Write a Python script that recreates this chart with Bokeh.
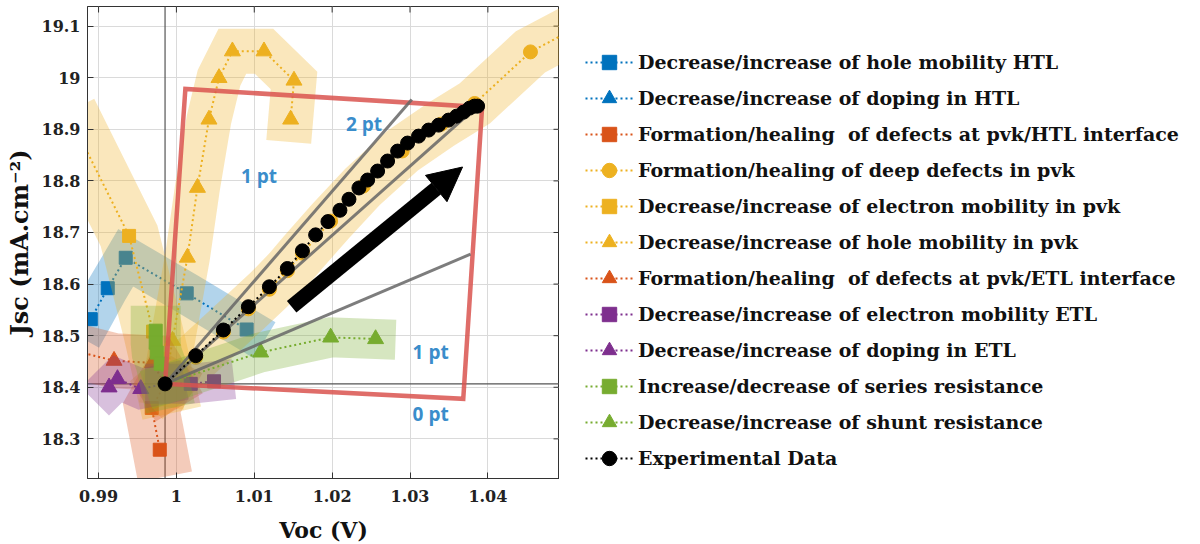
import math
from bokeh.plotting import figure
from bokeh.layouts import row
from bokeh.models import Legend, LegendItem, Span, Arrow, NormalHead, FixedTicker
from bokeh.core.properties import value
from bokeh.embed import file_html
from bokeh.resources import INLINE

BLUE, ORANGE, YELLOW, PURPLE, GREEN = "#0072BD", "#D95319", "#EDB120", "#7E2F8E", "#77AC30"
SERIF = "DejaVu Serif"

# axis limits and ticks
x_lim = (0.98858, 1.0492)
y_lim = (18.2232, 19.138)
x_ticks = [0.99, 1.0, 1.01, 1.02, 1.03, 1.04]
x_tick_labels = ["0.99", "1", "1.01", "1.02", "1.03", "1.04"]
y_ticks = [18.3, 18.4, 18.5, 18.6, 18.7, 18.8, 18.9, 19.0, 19.1]
y_tick_labels = ["18.3", "18.4", "18.5", "18.6", "18.7", "18.8", "18.9", "19", "19.1"]

# measured Voc / Jsc trajectory
exp_voc = [0.99854, 1.00248, 1.00603, 1.00924, 1.01194, 1.01425, 1.01618, 1.01788, 1.01946,
           1.02100, 1.02216, 1.02344, 1.02456, 1.02584, 1.02712, 1.02841, 1.02969, 1.03110,
           1.03239, 1.03367, 1.03495, 1.03598, 1.03688, 1.03765, 1.03829, 1.03868]
exp_jsc = [18.4066, 18.4613, 18.5110, 18.5561, 18.5948, 18.6302, 18.6644, 18.6954, 18.7211,
           18.7431, 18.7644, 18.7863, 18.8017, 18.8191, 18.8385, 18.8578, 18.8733, 18.8868,
           18.8985, 18.9081, 18.9178, 18.9255, 18.9333, 18.9410, 18.9449, 18.9449]

# simulated parameter sweeps (Voc, Jsc)
htl_mob_v = [0.98900, 0.99118, 0.99349, 1.00132, 1.00902]
htl_mob_j = [18.532, 18.592, 18.651, 18.582, 18.512]

htl_dop_v = [0.99854]
htl_dop_j = [18.4066]

htl_int_v = [0.99854, 0.99683, 0.99786]
htl_int_j = [18.4066, 18.360, 18.279]

deep_v = [0.99854, 1.00248, 1.00603, 1.00924, 1.01194, 1.01425, 1.01618, 1.01980, 1.02400,
          1.02900, 1.03400, 1.03830, 1.04547, 1.05350]
deep_j = [18.4066, 18.4580, 18.5070, 18.5520, 18.5900, 18.6260, 18.6600, 18.7220, 18.7900,
          18.8580, 18.9100, 18.9500, 19.0500, 19.1140]

pvk_emob_v = [0.98772, 0.99392, 0.99700, 0.99854]
pvk_emob_j = [18.881, 18.6934, 18.508, 18.4066]

pvk_hmob_v = [0.99854, 0.99949, 1.00141, 1.00270, 1.00418, 1.00547, 1.00719, 1.01125, 1.01510, 1.01467]
pvk_hmob_j = [18.4066, 18.4903, 18.6515, 18.7868, 18.9191, 18.9996, 19.0513, 19.0513, 18.9946, 18.9191]

etl_int_v = [0.98746, 0.99199, 0.99692, 0.99854]
etl_int_j = [18.4687, 18.4516, 18.4472, 18.4066]

etl_mob_v = [0.99854, 1.00184, 1.00483]
etl_mob_j = [18.4066, 18.4066, 18.4116]

etl_dop_v = [0.99135, 0.99243, 0.99542, 0.99854]
etl_dop_j = [18.4000, 18.4162, 18.3969, 18.4066]

rs_v = [0.99734, 0.99734, 0.99747, 0.99798, 0.99854]
rs_j = [18.5097, 18.4865, 18.4672, 18.4458, 18.4066]

rsh_v = [0.99854, 1.01082, 1.01981, 1.02558]
rsh_j = [18.4066, 18.4677, 18.4967, 18.4936]

# efficiency-gain zone
box_v = [0.99854, 1.00115, 1.03926, 1.03684, 0.99854]
box_j = [18.4066, 18.9783, 18.9429, 18.3776, 18.4066]
bound_v = [1.03023, 1.03868, 1.03778]
bound_j = [18.9578, 18.9449, 18.6580]
zone_text = ["1 pt", "2 pt", "1 pt", "0 pt"]
zone_v = [1.01060, 1.02408, 1.03265, 1.03265]
zone_j = [18.8095, 18.9095, 18.4677, 18.3486]
trend_start = (1.01480, 18.5561)
trend_end = (1.03675, 18.8269)

p = figure(frame_width=472, frame_height=472,
           x_range=x_lim, y_range=y_lim,
           output_backend="svg", toolbar_location=None,
           min_border_left=87, min_border_top=6, min_border_bottom=66, min_border_right=0,
           background_fill_color="white", border_fill_color="white")
p.outline_line_color = "#333333"
p.outline_line_width = 1

for ax, ticks, labels in ((p.xaxis[0], x_ticks, x_tick_labels), (p.yaxis[0], y_ticks, y_tick_labels)):
    ax.ticker = FixedTicker(ticks=ticks)
    ax.major_label_overrides = dict(zip(ticks, labels))
    ax.major_tick_in = 6
    ax.major_tick_out = 0
    ax.minor_tick_line_color = None
    ax.major_label_text_font = SERIF
    ax.major_label_text_font_style = "bold"
    ax.major_label_text_font_size = "16px"
    ax.major_label_text_color = "#222222"
    ax.axis_line_color = "#333333"
    ax.major_tick_line_color = "#333333"
    ax.axis_label_text_font = SERIF
    ax.axis_label_text_font_style = "bold"
    ax.axis_label_text_font_size = "22px"
    ax.axis_label_text_color = "#111111"

p.xaxis.axis_label = "Voc (V)"
p.yaxis.axis_label = "Jsc (mA.cm⁻²)"
p.yaxis.axis_label_text_font_size = "24px"
p.xaxis.major_label_standoff = 11
p.xaxis.axis_label_standoff = 12
p.yaxis.major_label_standoff = 7
p.yaxis.axis_label_standoff = 5

p.xgrid.ticker = FixedTicker(ticks=x_ticks)
p.ygrid.ticker = FixedTicker(ticks=y_ticks)
p.grid.grid_line_color = "#DADADA"
p.grid.grid_line_width = 1

# inward ticks on the top and right edges of the box
p.scatter(x=x_ticks, y=[y_lim[1]] * len(x_ticks), marker="dash", angle=math.pi / 2, size=12,
          line_color="#333333", line_width=1)
p.scatter(x=[x_lim[1]] * len(y_ticks), y=y_ticks, marker="dash", size=12,
          line_color="#333333", line_width=1)

ref_v = exp_voc[0]
ref_j = exp_jsc[0]
p.add_layout(Span(location=ref_v, dimension="height", line_color="#555555", line_width=1.2, level="underlay"))
p.add_layout(Span(location=ref_j, dimension="width", line_color="#555555", line_width=1.2, level="underlay"))

# legend panel beside the chart; its glyphs reuse the same series, which fall outside its ranges
lf = figure(width=641, height=544, x_range=(0, 1), y_range=(0, 1),
            x_axis_location=None, y_axis_location=None,
            output_backend="svg", toolbar_location=None, min_border=0,
            background_fill_color="white", border_fill_color="white")
lf.outline_line_color = None
lf.grid.visible = False


def sweep(fig, v, j, color, marker, msize, band, skip_ref=True):
    line = fig.line(v, j, line_color=color, line_width=2, line_dash="2 3")
    keep = [not (skip_ref and a == ref_v and b == ref_j) for a, b in zip(v, j)]
    mv = [a for a, k in zip(v, keep) if k]
    mj = [b for b, k in zip(j, keep) if k]
    pts = fig.scatter(mv, mj, marker=marker, size=msize, fill_color=color, line_color=color)
    if band:
        fig.line(v, j, line_color=color, line_alpha=0.3, line_width=band,
                 line_join="miter", line_cap="square")
    return [line, pts]


series = [
    ("Decrease/increase of hole mobility HTL", htl_mob_v, htl_mob_j, BLUE, "square", 13, 42),
    ("Decrease/increase of doping in HTL", htl_dop_v, htl_dop_j, BLUE, "triangle", 16, 0),
    ("Formation/healing  of defects at pvk/HTL interface", htl_int_v, htl_int_j, ORANGE, "square", 13, 55),
    ("Formation/healing of deep defects in pvk", deep_v, deep_j, YELLOW, "circle", 14, 50),
    ("Decrease/increase of electron mobility in pvk", pvk_emob_v, pvk_emob_j, YELLOW, "square", 13, 60),
    ("Decrease/increase of hole mobility in pvk", pvk_hmob_v, pvk_hmob_j, YELLOW, "triangle", 16, 45),
    ("Formation/healing  of defects at pvk/ETL interface", etl_int_v, etl_int_j, ORANGE, "triangle", 16, 55),
    ("Decrease/increase of electron mobility ETL", etl_mob_v, etl_mob_j, PURPLE, "square", 13, 40),
    ("Decrease/increase of doping in ETL", etl_dop_v, etl_dop_j, PURPLE, "triangle", 16, 40),
    ("Increase/decrease of series resistance", rs_v, rs_j, GREEN, "square", 13, 50),
    ("Decrease/increase of shunt resistance", rsh_v, rsh_j, GREEN, "triangle", 16, 40),
]

items = []
for label, v, j, color, marker, msize, band in series:
    sweep(p, v, j, color, marker, msize, band)
    items.append(LegendItem(label=label, renderers=sweep(lf, v, j, color, marker, msize, 0, skip_ref=False)))

# efficiency zone outline and iso-gain boundaries
p.line(box_v, box_j, line_color="#D9534F", line_alpha=0.85, line_width=4.5, line_join="miter")
p.segment(x0=[ref_v] * len(bound_v), y0=[ref_j] * len(bound_j), x1=bound_v, y1=bound_j,
          line_color="#666666", line_alpha=0.85, line_width=3)

p.line(exp_voc, exp_jsc, line_color="black", line_width=2, line_dash="2 3")
p.scatter(exp_voc, exp_jsc, marker="circle", size=14, fill_color="black", line_color="black")
exp_line = lf.line(exp_voc, exp_jsc, line_color="black", line_width=2, line_dash="2 3")
exp_pts = lf.scatter(exp_voc, exp_jsc, marker="circle", size=14, fill_color="black", line_color="black")
items.append(LegendItem(label="Experimental Data", renderers=[exp_line, exp_pts]))

p.add_layout(Arrow(end=NormalHead(size=34, fill_color="black", line_color="black"),
                   x_start=trend_start[0], y_start=trend_start[1],
                   x_end=trend_end[0], y_end=trend_end[1],
                   line_color="black", line_width=15))

p.text(x=zone_v, y=zone_j, text=zone_text, text_font=value("Open Sans"), text_font_style="bold",
       text_font_size="19px", text_color="#3A8DCB", text_align="center", text_baseline="middle")

legend = Legend(items=items, location=(26, 1), padding=0, spacing=0, margin=0,
                glyph_width=48, glyph_height=36, label_height=36, label_standoff=5,
                border_line_alpha=0, background_fill_alpha=0,
                label_text_font=SERIF, label_text_font_style="bold",
                label_text_font_size="19px", label_text_color="#111111")
lf.add_layout(legend, "center")

open("out.html", "w").write(file_html(row(p, lf), INLINE))
